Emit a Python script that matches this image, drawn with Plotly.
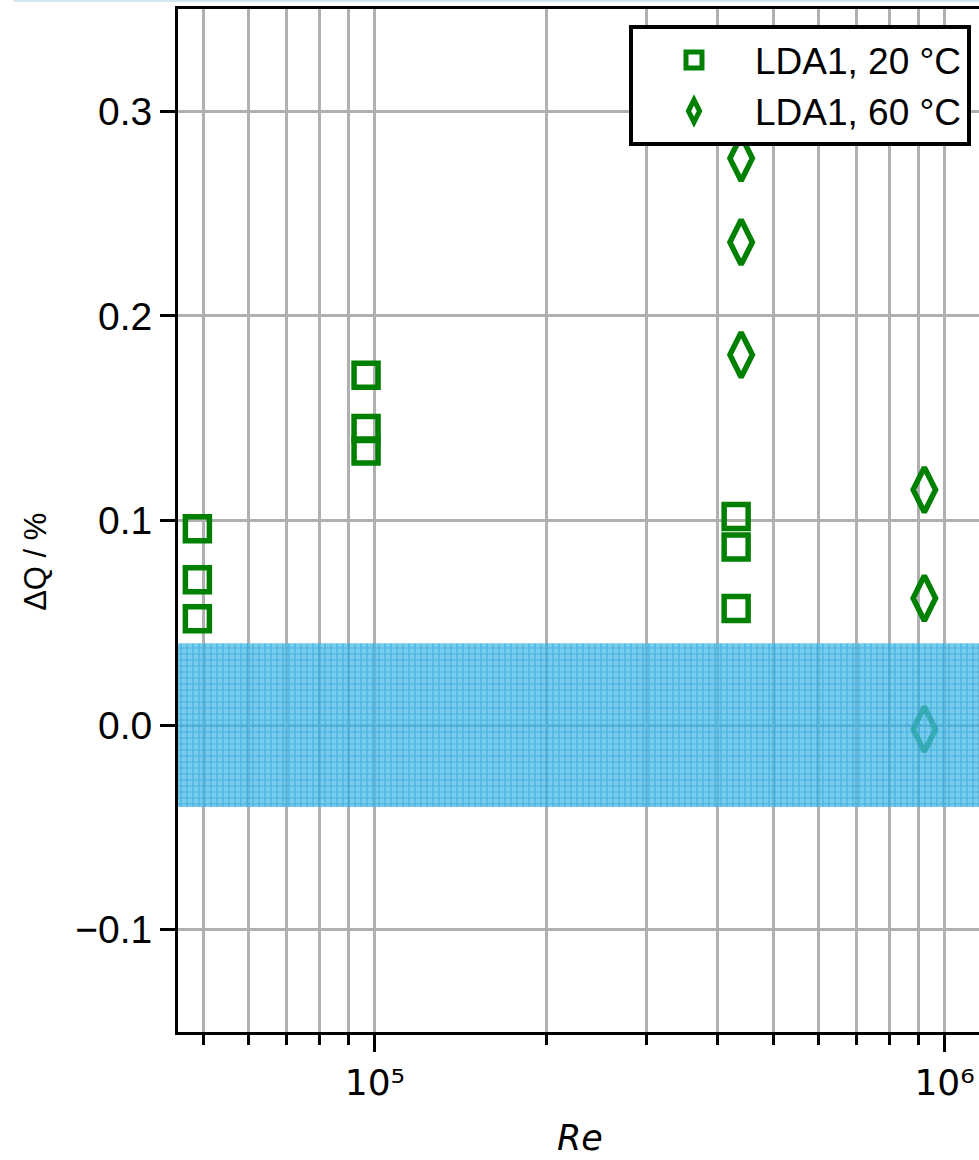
import plotly.graph_objects as go

# ---- data ----
re_20 = [48800, 48800, 48800, 96500, 96500, 96500, 430700, 430700, 430700]
dq_20 = [0.096, 0.071, 0.052, 0.171, 0.145, 0.134, 0.102, 0.087, 0.057]

re_60 = [439500, 439500, 439500, 921700, 921700, 921700]
dq_60 = [0.277, 0.236, 0.181, 0.115, 0.062, -0.002]

band_low, band_high = -0.04, 0.04
x_range_log = [4.6544, 6.0605]
y_range = [-0.15, 0.35]

major_x = [1e5, 1e6]
major_x_text = ["10⁵", "10⁶"]
minor_x = [5e4, 6e4, 7e4, 8e4, 9e4, 2e5, 3e5, 4e5, 5e5, 6e5, 7e5, 8e5, 9e5]

GREEN = "#008000"
GRID = "#b0b0b0"

fig = go.Figure()

fig.add_trace(go.Scatter(
    x=re_20, y=dq_20, mode="markers", name="LDA1, 20 °C",
    marker=dict(symbol="square-open", size=24, color=GREEN,
                line=dict(color=GREEN, width=5.5)),
    legendgroup="a",
))
fig.add_trace(go.Scatter(
    x=re_60, y=dq_60, mode="markers", name="LDA1, 60 °C",
    marker=dict(symbol="diamond-tall-open", size=32, color=GREEN,
                line=dict(color=GREEN, width=5.5)),
    legendgroup="b",
))

# uncertainty band (hatched, semi-transparent)
bx0, bx1 = 10 ** (x_range_log[0] - 0.2), 10 ** (x_range_log[1] + 0.2)
fig.add_trace(go.Scatter(
    x=[bx0, bx1, bx1, bx0, bx0],
    y=[band_low, band_low, band_high, band_high, band_low],
    mode="lines", line=dict(width=0), fill="toself",
    fillcolor="rgba(60,175,225,0.8)",
    fillpattern=dict(shape="+", size=6, solidity=0.35,
                     fgcolor="#0b96d0", bgcolor="rgba(80,188,232,0.76)"),
    showlegend=False, hoverinfo="skip",
))

fig.update_layout(
    width=979, height=1160,
    margin=dict(l=177.5, r=0, t=8.5, b=128),
    paper_bgcolor="white", plot_bgcolor="white",
    font=dict(family="Liberation Sans, Arial, sans-serif", size=39, color="black"),
    showlegend=True,
    legend=dict(x=0.99, y=0.984, xanchor="right", yanchor="top",
                bgcolor="white", bordercolor="black", borderwidth=4,
                font=dict(size=37), itemwidth=112, tracegroupgap=0,
                itemsizing="trace"),
)

fig.update_xaxes(
    type="log", range=x_range_log,
    tickmode="array", tickvals=major_x, ticktext=major_x_text,
    tickfont=dict(family="DejaVu Sans", size=36),
    ticks="outside", ticklen=17, tickwidth=3, tickcolor="black",
    showline=True, linewidth=3, linecolor="black", mirror=True,
    showgrid=True, gridcolor=GRID, gridwidth=2.5,
    minor=dict(tickmode="array", tickvals=minor_x, ticks="outside",
               ticklen=10, tickwidth=2.5, tickcolor="black",
               showgrid=True, gridcolor=GRID, gridwidth=2.5),
    zeroline=False,
)
fig.update_yaxes(
    range=y_range, tickmode="linear", tick0=0, dtick=0.1, tickformat=".1f",
    ticks="outside", ticklen=15, tickwidth=3, tickcolor="black",
    showline=True, linewidth=3, linecolor="black", mirror=False,
    showgrid=True, gridcolor=GRID, gridwidth=2.5,
    zeroline=False,
)

fig.add_annotation(text="ΔQ / %", textangle=-90, xref="paper", yref="paper",
                   x=-0.178, y=0.46, xanchor="center", yanchor="middle",
                   showarrow=False,
                   font=dict(family="Liberation Sans, Arial", size=31))
fig.add_annotation(text="<i>Re</i>", xref="paper", yref="paper",
                   x=0.502, y=-0.1035, xanchor="center", yanchor="middle",
                   showarrow=False,
                   font=dict(family="DejaVu Sans", size=35))

# faint light-blue line at the very top edge of the picture
fig.add_shape(type="line", xref="paper", yref="paper",
              x0=-0.205, x1=1, y0=1.0078, y1=1.0078,
              line=dict(color="#d2e6f2", width=2))

fig.write_html("out.html")
